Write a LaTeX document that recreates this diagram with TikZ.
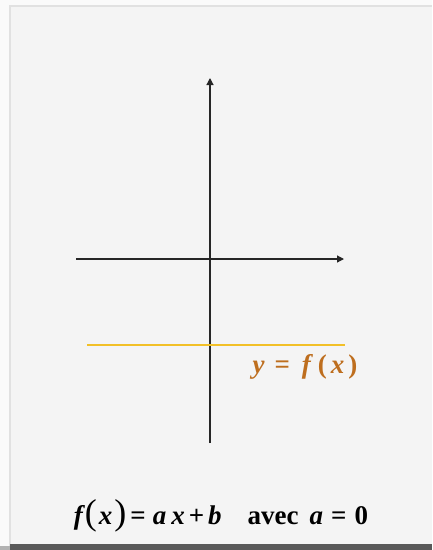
\documentclass[tikz,border=0pt]{standalone}
\usepackage{fontspec}
\setmainfont{Liberation Serif}
\usetikzlibrary{arrows.meta}
\definecolor{bgc}{RGB}{250,250,250}
\definecolor{panel}{RGB}{244,244,244}
\definecolor{edge}{RGB}{225,225,225}
\definecolor{gold}{RGB}{242,192,40}
\definecolor{lblc}{RGB}{190,110,30}
\newcommand{\iv}[1]{{\itshape #1}}
\newcommand{\bigp}[1]{{\fontsize{36}{36}\selectfont\mdseries #1}}
\tikzset{
  axis/.style={line width=1.2pt, black!85, -{Triangle[length=7pt,width=7pt]}},
  hline/.style={line width=1.6pt, gold},
  lbl/.style={font=\fontsize{27}{30}\selectfont\bfseries, text=lblc, inner sep=0pt},
  formula/.style={font=\fontsize{27}{30}\selectfont\bfseries, inner sep=0pt}
}
\begin{document}
\begin{tikzpicture}[x=1pt,y=-1pt]
\useasboundingbox (0,0) rectangle (432,550);
\fill[bgc] (0,0) rectangle (432,550);
\fill[panel] (10,6) rectangle (432,544);
\draw[edge, line width=2pt] (10,550) -- (10,6) -- (432,6);
\fill[black!65] (10,544) rectangle (432,550);
\fill[black!30] (0,546) rectangle (10,550);
% axes
\coordinate (hL) at (76,259);
\coordinate (hR) at (344,259);
\coordinate (vB) at (210,443);
\coordinate (vT) at (210,78);
\draw[axis] (hL) -- (hR);
\draw[axis] (vB) -- (vT);
% constant function
\coordinate (gL) at (87,345);
\coordinate (gR) at (345,345);
\draw[hline] (gL) -- (gR);
\node[lbl] (lab) at (305,367) {\iv{y}\hspace{10pt}=\hspace{12pt}\iv{f}\hspace{7pt}(\hspace{4pt}\iv{x}\hspace{4pt})};
\node[formula] (form) at (221,516) {\iv{f}\hspace{2pt}\bigp{(}\hspace{2pt}\iv{x}\hspace{2pt}\bigp{)}\hspace{4pt}=\hspace{7pt}\iv{a}\hspace{5pt}\iv{x}\hspace{4pt}+\hspace{4pt}\iv{b}\hspace{26pt}avec\hspace{11pt}\iv{a}\hspace{8pt}=\hspace{8pt}0};
\end{tikzpicture}
\end{document}
